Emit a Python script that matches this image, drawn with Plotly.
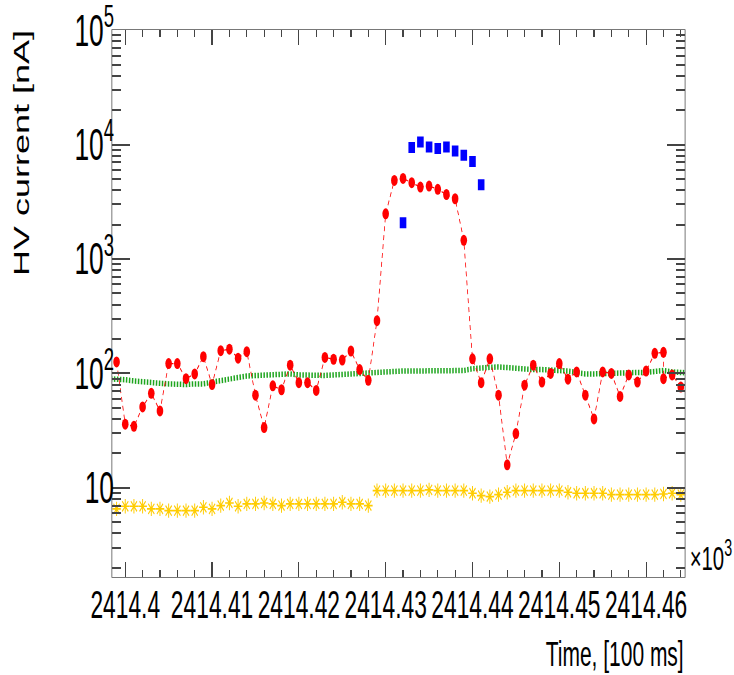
import plotly.graph_objects as go

# ---- data -------------------------------------------------------------
# time in units of 100 ms
red_time = list(range(2414399, 2414463)) + [2414462, 2414463, 2414464]
red_current = [126, 36, 34.5, 51, 67, 47, 122, 122, 90, 99,
               140, 80, 158, 163, 136, 155, 64.5, 33.6, 78, 72,
               118, 83, 83, 71, 138, 133, 131, 157, 108, 87,
               289, 2480, 4860, 5060, 4640, 4250, 4340, 4060, 3660, 3360,
               1455, 134, 83, 134, 64.5, 15.9, 29.8, 79, 118, 84,
               100, 122, 89, 103, 64.5, 40, 103, 100, 63, 97,
               84, 105, 150, 153, 90, 97, 76]

blue_time = list(range(2414432, 2414442))
blue_current = [2070, 9420, 10540, 9530, 9230, 9530, 8790, 8050, 7100, 4460]

green_time = list(range(2414398, 2414466))
green_current = [90, 90, 88, 86, 84, 83, 82, 81, 80, 80,
                 81, 81, 84, 86, 89, 92, 95, 96, 96, 96,
                 97, 99, 97, 96, 96, 96, 97, 98, 99, 101,
                 102, 103, 105, 105, 105, 105, 105, 105, 105, 105,
                 105, 106, 110, 110, 113, 114, 112, 109, 108, 108,
                 108, 107, 107, 105, 102, 99, 99, 100, 100, 100,
                 101, 102, 102, 104, 106, 103, 101, 101]

yellow_time = list(range(2414399, 2414465))
yellow_current = [6.55, 6.9, 6.9, 6.9, 6.55, 6.55, 6.32, 6.32, 6.32, 6.32,
                  6.76, 6.55, 7.0, 7.38, 6.9, 7.24, 7.24, 7.38, 7.24, 7.0,
                  7.24, 7.24, 7.24, 7.24, 7.24, 7.24, 7.48, 7.24, 7.24, 7.0,
                  9.46, 9.46, 9.46, 9.46, 9.46, 9.46, 9.6, 9.46, 9.46, 9.46,
                  9.46, 8.97, 8.55, 8.39, 8.73, 9.16, 9.46, 9.46, 9.46, 9.46,
                  9.46, 9.46, 9.16, 8.97, 8.97, 8.97, 8.97, 8.73, 8.73, 8.73,
                  8.73, 8.73, 8.73, 8.85, 8.97, 8.73]

x_tick_vals = [2414400, 2414410, 2414420, 2414430, 2414440, 2414450, 2414460]
x_tick_text = ["2414.4", "2414.41", "2414.42", "2414.43", "2414.44", "2414.45", "2414.46"]
y_tick_vals = [10, 100, 1000, 10000, 100000]
y_tick_text = ["10", "10<sup>2</sup>", "10<sup>3</sup>", "10<sup>4</sup>", "10<sup>5</sup>"]

# ---- canvas -----------------------------------------------------------
# The canvas is laid out wide and then compressed horizontally on the page.
PAGE_W = 734
CANVAS_W = 1224
SX = PAGE_W / CANVAS_W
FONT = "Liberation Sans, Arial, Helvetica, sans-serif"

y_minor = [m * 10 ** e for e in range(0, 5) for m in range(2, 10)]

fig = go.Figure()

fig.add_trace(go.Scatter(
    x=green_time, y=green_current, mode="lines",
    line=dict(color="#1ea51e", width=5.5, dash="2.5px,2.5px"),
    hoverinfo="skip"))

fig.add_trace(go.Scatter(
    x=red_time, y=red_current, mode="lines+markers",
    line=dict(color="#ff0000", width=1.3, dash="5px,4px"),
    marker=dict(symbol="circle", size=11, color="#ff0000", line=dict(width=0))))

fig.add_trace(go.Scatter(
    x=yellow_time, y=yellow_current, mode="markers",
    marker=dict(symbol="asterisk-open", size=12, color="#ffcc00",
                line=dict(color="#ffcc00", width=1.6))))

fig.add_trace(go.Scatter(
    x=blue_time, y=blue_current, mode="markers",
    marker=dict(symbol="square", size=11, color="#0000ff", line=dict(width=0))))

fig.update_layout(
    width=CANVAS_W, height=675,
    margin=dict(l=187, r=82, t=30, b=98, autoexpand=False),
    paper_bgcolor="white", plot_bgcolor="white",
    showlegend=False,
    font=dict(family=FONT, color="black"),
)

fig.update_xaxes(
    range=[2414398.49, 2414464.46],
    automargin=False,
    showgrid=False, zeroline=False,
    showline=True, linecolor="#555", linewidth=1.2, mirror="ticks",
    ticks="inside", ticklen=15, tickwidth=1.5, tickcolor="#444",
    tickmode="array", tickvals=x_tick_vals, ticktext=x_tick_text,
    tickangle=0,
    tickfont=dict(size=38, family=FONT),
    ticklabelstandoff=-6,
    minor=dict(ticks="inside", dtick=2, tick0=2414400, ticklen=7,
               tickwidth=1.5, tickcolor="#444", showgrid=False),
)

fig.update_yaxes(
    type="log", range=[0.221, 5.001],
    automargin=False,
    showgrid=False, zeroline=False,
    showline=True, linecolor="#555", linewidth=1.2, mirror="ticks",
    ticks="inside", ticklen=30, tickwidth=1.5, tickcolor="#444",
    tickmode="array", tickvals=y_tick_vals, ticktext=y_tick_text,
    tickangle=0,
    tickfont=dict(size=44, family=FONT),
    ticklabelstandoff=-13,
    minor=dict(ticks="inside", tickmode="array", tickvals=y_minor, ticklen=15,
               tickwidth=1.5, tickcolor="#444", showgrid=False),
)

# axis titles, placed at the far ends of their axes
fig.add_annotation(
    text="HV current [nA]", textangle=-90,
    xref="paper", yref="paper", x=-0.158, y=1.0037,
    xanchor="center", yanchor="top", showarrow=False,
    font=dict(size=36, family=FONT, color="black"))

fig.add_annotation(
    text="Time, [100 ms]",
    xref="paper", yref="paper", x=1.0, y=-0.14,
    xanchor="right", yanchor="middle", showarrow=False,
    font=dict(size=35, family=FONT, color="black"))

fig.add_annotation(
    text="\u00d710<sup>3</sup>",
    xref="paper", yref="paper", x=1.006, y=-0.004,
    xanchor="left", yanchor="bottom", showarrow=False,
    font=dict(size=34, family=FONT, color="black"))

squeeze_js = """
var gd = document.getElementById('{plot_id}');
document.documentElement.style.overflow = 'hidden';
document.body.style.margin = '0';
document.body.style.overflow = 'hidden';
gd.style.transformOrigin = '0 0';
gd.style.transform = 'scaleX(%.5f)';
""" % SX

fig.write_html("out.html", config={"displayModeBar": False},
               post_script=squeeze_js)
